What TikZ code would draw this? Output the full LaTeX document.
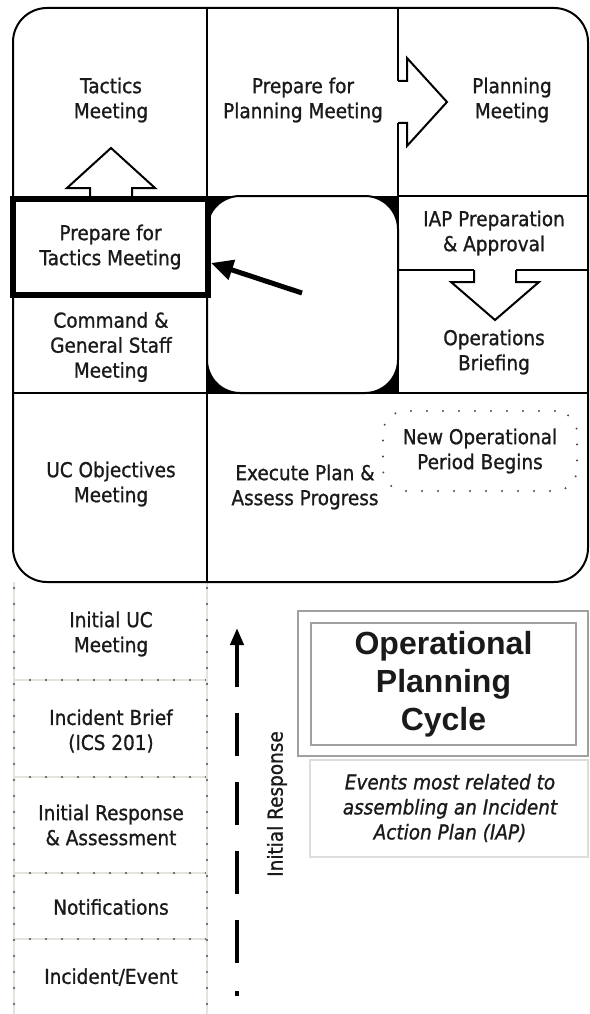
\documentclass[tikz,border=0pt]{standalone}
\usepackage{fontspec}
\setmainfont{DejaVu Sans}[FakeStretch=0.9,FakeBold=1]
\newfontfamily\titlefont{Liberation Sans}
\usetikzlibrary{arrows.meta}
\definecolor{txt}{HTML}{1A1A1A}
\definecolor{dotgray}{HTML}{4A4A4A}
\definecolor{linegray}{HTML}{E4E4DC}
\definecolor{boxgray}{HTML}{A0A0A0}
\definecolor{lightbox}{HTML}{DDDDDD}
\begin{document}
\begin{tikzpicture}[x=1pt,y=-1pt,
  lbl/.style={font=\fontsize{20.5}{25}\selectfont, align=center, inner sep=0pt, text=txt},
  thinline/.style={line width=2pt},
  blockarrow/.style={line width=2pt, line join=miter},
  gridline/.style={line width=2pt, draw=linegray},
  griddots/.style={line width=2.4pt, draw=dotgray, line cap=round, dash pattern=on 0pt off 16pt},
]
\useasboundingbox (0,0) rectangle (589,1014);
\fill[white] (0,0) rectangle (589,1014);

% bottom dotted grid
\foreach \y in {680,777,873,939} {
  \draw[gridline] (14,\y) -- (207,\y);
  \draw[griddots] (14,\y) -- (207,\y);
}
\foreach \x in {14,207} {
  \draw[gridline] (\x,582) -- (\x,1014);
  \draw[griddots] (\x,588) -- (\x,1014);
}

% outer frame
\draw[thinline, rounded corners=34pt] (13,8) rectangle (588,582);

% centre block
\fill[black] (207,196) rectangle (398,393);
\draw[thinline, fill=white, rounded corners=33pt] (207,196) rectangle (398,393);

% grid lines
\draw[thinline] (207,8) -- (207,582);
\draw[thinline] (398,8) -- (398,393);
\draw[thinline] (398,196) -- (588,196);
\draw[thinline] (13,393) -- (588,393);
\draw[thinline] (398,270) -- (588,270);

% block arrow up
\fill[white] (90,198) -- (90,188) -- (67,188) -- (111,148) -- (155,188) -- (132,188) -- (132,198) -- cycle;
\draw[blockarrow] (90,196) -- (90,188) -- (67,188) -- (111,148) -- (155,188) -- (132,188) -- (132,196);
% block arrow right
\fill[white] (396,81) -- (407,81) -- (407,58) -- (447,102) -- (407,146) -- (407,123) -- (396,123) -- cycle;
\draw[blockarrow] (398,81) -- (407,81) -- (407,58) -- (447,102) -- (407,146) -- (407,123) -- (398,123);
% block arrow down
\fill[white] (474,268) -- (474,282) -- (451,282) -- (495,320) -- (539,282) -- (516,282) -- (516,268) -- cycle;
\draw[blockarrow] (474,270) -- (474,282) -- (451,282) -- (495,320) -- (539,282) -- (516,282) -- (516,270);

% top cells
\node[lbl] (tactics) at (111,100) {Tactics\\Meeting};
\node[lbl] (prepplan) at (303,100) {Prepare for\\Planning Meeting};
\node[lbl] (planning) at (512,100) {Planning\\Meeting};

% middle row
\node[lbl, draw=black, line width=6pt, minimum width=195pt, minimum height=96pt] (preptac) at (110.5,247) {Prepare for\\Tactics Meeting};
\node[lbl] (iap) at (494,233) {IAP Preparation\\\& Approval};
\node[lbl] (cgs) at (111,347) {Command \&\\General Staff\\Meeting};
\node[lbl] (opsbrief) at (494,352) {Operations\\Briefing};

% bottom row of cycle
\node[lbl] (ucobj) at (111,484) {UC Objectives\\Meeting};
\node[lbl] (execute) at (305,487) {Execute Plan \&\\Assess Progress};
\node[lbl, draw=dotgray, line width=2.2pt, line cap=round, dash pattern=on 0pt off 16pt,
  rounded corners=22pt, minimum width=194pt, minimum height=80pt] (newop) at (480,451) {New Operational\\Period Begins};

% pointer arrow
\coordinate (ptail) at (302,293);
\draw[line width=5pt, -{Triangle[length=22pt,width=20pt]}] (ptail) -- ([yshift=-16pt]preptac.east);

% initial response column
\node[lbl] (initialuc) at (111,634) {Initial UC\\Meeting};
\node[lbl] (brief) at (111,731) {Incident Brief\\(ICS 201)};
\node[lbl] (initresp) at (111,825) {Initial Response\\\& Assessment};
\node[lbl] (notif) at (111,907) {Notifications};
\node[lbl] (incident) at (111,977) {Incident/Event};

% dashed arrow
\coordinate (dashbot) at (237,996);
\coordinate (dashtop) at (237,628);
\draw[line width=4pt, dash pattern=on 5pt off 28pt on 43pt off 26pt on 43pt off 26pt on 43pt off 26pt on 43pt off 26pt on 100pt,
  -{Triangle[length=17pt,width=13pt]}] (dashbot) -- (dashtop);
\node[lbl, rotate=90] (irlabel) at (277,804) {Initial Response};

% title boxes
\node[draw=boxgray, line width=2pt, minimum width=290pt, minimum height=145pt, inner sep=0pt] (titleouter) at (443,683.5) {};
\node[draw=boxgray, line width=1.5pt, minimum width=265pt, minimum height=122pt, inner sep=0pt,
  font=\titlefont\bfseries\fontsize{32}{38}\selectfont, align=center, text=txt] (title) at (443.5,684) {Operational\\Planning\\Cycle};
\node[draw=lightbox, line width=1.5pt, minimum width=278pt, minimum height=97pt, inner sep=0pt] (eventsbox) at (449,808.5) {};
\node[lbl, font=\itshape\fontsize{20.5}{25}\selectfont] (events) at (450,808) {Events most related to\\assembling an Incident\\Action Plan (IAP)};
\end{tikzpicture}
\end{document}
